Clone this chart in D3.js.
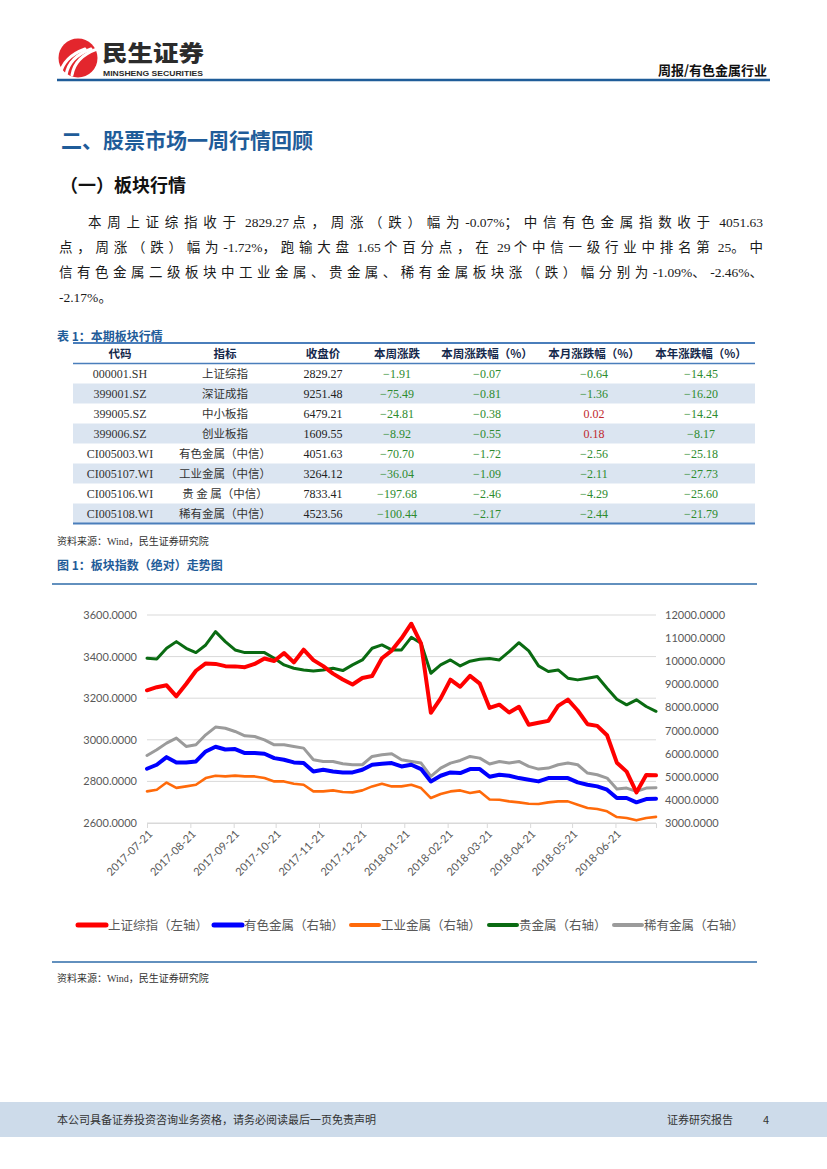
<!DOCTYPE html>
<html>
<head>
<meta charset="utf-8">
<script src="https://cdn.jsdelivr.net/npm/d3@7"></script>
<style>
body { margin: 0; background: #fff; }
svg { display: block; }
</style>
</head>
<body>
<svg id="page"></svg>
<script>
const W = 827, H = 1169;
const cjk = '"Noto Sans CJK SC", sans-serif';
const serif = '"Liberation Serif", "Noto Sans CJK SC", serif';
const chartFont = 'Lato, "Noto Sans CJK SC", sans-serif';
const blue = "#1f5c99";

// table 1
const tblHead = ["代码", "指标", "收盘价", "本周涨跌", "本周涨跌幅（%）", "本月涨跌幅（%）", "本年涨跌幅（%）"];
const tblCode = ["000001.SH", "399001.SZ", "399005.SZ", "399006.SZ", "CI005003.WI", "CI005107.WI", "CI005106.WI", "CI005108.WI"];
const tblName = ["上证综指", "深证成指", "中小板指", "创业板指", "有色金属（中信）", "工业金属（中信）", "贵 金 属（中信）", "稀有金属（中信）"];
const tblClose = ["2829.27", "9251.48", "6479.21", "1609.55", "4051.63", "3264.12", "7833.41", "4523.56"];
const tblWeekChg = [-1.91, -75.49, -24.81, -8.92, -70.70, -36.04, -197.68, -100.44];
const tblWeekPct = [-0.07, -0.81, -0.38, -0.55, -1.72, -1.09, -2.46, -2.17];
const tblMonthPct = [-0.64, -1.36, 0.02, 0.18, -2.56, -2.11, -4.29, -2.44];
const tblYearPct = [-14.45, -16.20, -14.24, -8.17, -25.18, -27.73, -25.60, -21.79];

// figure 1 (weekly readings)
const weeks = [
  "2017-07-21","2017-07-28","2017-08-04","2017-08-11","2017-08-18","2017-08-25","2017-09-01","2017-09-08",
  "2017-09-15","2017-09-22","2017-09-29","2017-10-06","2017-10-13","2017-10-20","2017-10-27","2017-11-03",
  "2017-11-10","2017-11-17","2017-11-24","2017-12-01","2017-12-08","2017-12-15","2017-12-22","2017-12-29",
  "2018-01-05","2018-01-12","2018-01-19","2018-01-26","2018-02-02","2018-02-09","2018-02-16","2018-02-23",
  "2018-03-02","2018-03-09","2018-03-16","2018-03-23","2018-03-30","2018-04-06","2018-04-13","2018-04-20",
  "2018-04-27","2018-05-04","2018-05-11","2018-05-18","2018-05-25","2018-06-01","2018-06-08","2018-06-15",
  "2018-06-22","2018-06-29","2018-07-06","2018-07-13","2018-07-20"];
const shIdx = [3238, 3253, 3262, 3209, 3268, 3332, 3367, 3365, 3354, 3353, 3349, 3365, 3391, 3379, 3417, 3372,
  3433, 3383, 3354, 3318, 3290, 3266, 3297, 3307, 3392, 3429, 3488, 3558, 3462, 3130, 3199, 3289,
  3255, 3307, 3270, 3153, 3169, 3131, 3159, 3072, 3082, 3091, 3163, 3193, 3141, 3075, 3067, 3022,
  2890, 2847, 2747, 2831, 2829];
const nonferrous = [5347, 5520, 5850, 5620, 5621, 5664, 6096, 6300, 6180, 6197, 6024, 6024, 5995, 5808, 5736, 5621,
  5592, 5232, 5304, 5232, 5189, 5189, 5304, 5520, 5563, 5592, 5448, 5520, 5333, 4800, 5045, 5189,
  5160, 5333, 5333, 5000, 5088, 5045, 4944, 4872, 4800, 4944, 4944, 4944, 4757, 4656, 4584, 4440,
  4080, 4080, 3893, 4037, 4052];
const industrial = [4368, 4440, 4750, 4520, 4584, 4656, 4944, 5045, 5016, 5050, 5016, 5016, 4944, 4800, 4800, 4699,
  4656, 4368, 4368, 4411, 4339, 4325, 4411, 4584, 4699, 4584, 4584, 4656, 4512, 4080, 4253, 4368,
  4411, 4296, 4368, 4020, 4008, 3936, 3893, 3835, 3821, 3893, 3936, 3936, 3792, 3648, 3605, 3504,
  3259, 3216, 3115, 3216, 3264];
const precious = [10128, 10100, 10560, 10848, 10560, 10373, 10704, 11280, 10848, 10488, 10373, 10373, 10373, 10128, 9840, 9696,
  9624, 9581, 9624, 9696, 9595, 9840, 10056, 10560, 10704, 10488, 10488, 11035, 10776, 9480, 9840, 10056,
  9797, 10000, 10085, 10120, 10056, 10416, 10800, 10450, 9797, 9552, 9624, 9264, 9192, 9264, 9336, 8832,
  8357, 8112, 8328, 8040, 7833];
const rare = [5923, 6168, 6456, 6672, 6312, 6384, 6816, 7150, 7100, 6960, 6773, 6744, 6600, 6384, 6384, 6312,
  6240, 5736, 5664, 5664, 5563, 5520, 5520, 5880, 5952, 5995, 5736, 5664, 5592, 5016, 5376, 5592,
  5707, 5880, 5808, 5550, 5664, 5592, 5664, 5448, 5333, 5376, 5520, 5592, 5520, 5160, 5088, 4944,
  4469, 4512, 4368, 4512, 4524];
const xTicks = ["2017-07-21","2017-08-21","2017-09-21","2017-10-21","2017-11-21","2017-12-21",
  "2018-01-21","2018-02-21","2018-03-21","2018-04-21","2018-05-21","2018-06-21"];
const leftTicks = [2600, 2800, 3000, 3200, 3400, 3600];
const rightTicks = [3000, 4000, 5000, 6000, 7000, 8000, 9000, 10000, 11000, 12000];

const series = [
  { name: "上证综指（左轴）", values: shIdx, axis: "L", color: "#ff0000", w: 4 },
  { name: "有色金属（右轴）", values: nonferrous, axis: "R", color: "#0000ff", w: 4 },
  { name: "工业金属（右轴）", values: industrial, axis: "R", color: "#ff6a0a", w: 2.6 },
  { name: "贵金属（右轴）", values: precious, axis: "R", color: "#0a6b12", w: 3 },
  { name: "稀有金属（右轴）", values: rare, axis: "R", color: "#9b9b9b", w: 3 }
];

const svg = d3.select("#page").attr("width", W).attr("height", H).attr("viewBox", [0, 0, W, H]);

// ---------- header ----------
const logo = svg.append("g");
logo.append("circle").attr("cx", 78).attr("cy", 58).attr("r", 19.5).attr("fill", "#e3262d");
[-8, -2, 4].forEach(o => {
  logo.append("path")
    .attr("d", `M${68 + o},${75} Q${71 + o},${57} ${93 + o},${49}`)
    .attr("fill", "none").attr("stroke", "#fff").attr("stroke-width", 3).attr("stroke-linecap", "round");
});
svg.append("text").attr("x", 102).attr("y", 61).text("民生证券")
  .attr("font-family", cjk).attr("font-weight", 900).attr("font-size", 22).attr("fill", "#2b2b2b")
  .attr("textLength", 102).attr("lengthAdjust", "spacingAndGlyphs");
svg.append("text").attr("x", 103).attr("y", 75.5).text("MINSHENG SECURITIES")
  .attr("font-family", '"Liberation Sans Narrow", "Liberation Sans", sans-serif').attr("font-weight", 700)
  .attr("font-size", 8).attr("fill", "#2b2b2b").attr("textLength", 100).attr("lengthAdjust", "spacingAndGlyphs");
svg.append("text").attr("x", 767).attr("y", 75).attr("text-anchor", "end").text("周报/有色金属行业")
  .attr("font-family", cjk).attr("font-weight", 700).attr("font-size", 13).attr("fill", "#111");
svg.append("line").attr("x1", 57).attr("x2", 770).attr("y1", 80).attr("y2", 80)
  .attr("stroke", "#1f5c99").attr("stroke-width", 2.4);

// ---------- headings & paragraph ----------
svg.append("text").attr("x", 61).attr("y", 148).text("二、股票市场一周行情回顾")
  .attr("font-family", cjk).attr("font-weight", 700).attr("font-size", 21).attr("fill", blue);
svg.append("text").attr("x", 60).attr("y", 192).text("（一）板块行情")
  .attr("font-family", cjk).attr("font-weight", 700).attr("font-size", 18).attr("fill", "#111");

const paraLines = [
  { t: "本周上证综指收于 2829.27 点，周涨（跌）幅为-0.07%；中信有色金属指数收于 4051.63", x: 88, y: 227, justify: true },
  { t: "点，周涨（跌）幅为-1.72%，跑输大盘 1.65 个百分点，在 29 个中信一级行业中排名第 25。中", x: 59, y: 252, justify: true },
  { t: "信有色金属二级板块中工业金属、贵金属、稀有金属板块涨（跌）幅分别为-1.09%、-2.46%、", x: 59, y: 277, justify: true },
  { t: "-2.17%。", x: 59, y: 302, justify: false }
];
const cjkRe = /[\u3000-\u303f\u4e00-\u9fff\uff00-\uffef]/;
const runRe = /[\u3000-\u303f\u4e00-\u9fff\uff00-\uffef]+|[^\u3000-\u303f\u4e00-\u9fff\uff00-\uffef]+/g;
const paraRight = 763;
paraLines.forEach(l => {
  const t = svg.append("text").attr("x", l.x).attr("y", l.y).style("white-space", "pre")
    .attr("font-family", serif).attr("font-size", 13.5).attr("fill", "#1a1a1a");
  const runs = l.t.match(runRe);
  const spans = runs.map(r => t.append("tspan").text(r).datum(cjkRe.test(r)));
  if (!l.justify) return;
  const natural = t.node().getComputedTextLength();
  const nCjk = Array.from(l.t).filter(c => cjkRe.test(c)).length;
  const lastCjk = cjkRe.test(l.t[l.t.length - 1]) ? 1 : 0;
  const extra = (paraRight - l.x - natural) / (nCjk - lastCjk);
  spans.forEach(s => { if (s.datum()) s.attr("letter-spacing", extra); });
});

// ---------- table ----------
svg.append("text").attr("x", 57).attr("y", 341).text("表 1：本期板块行情")
  .attr("font-family", cjk).attr("font-weight", 700).attr("font-size", 12).attr("fill", blue);

const tblL = 73, tblR = 755, tblTop = 343, headH = 20.5, rowH = 20;
const colX = [120, 225, 323, 397, 487, 594, 701];
const rowY = d3.range(tblCode.length).map(i => tblTop + headH + i * rowH);
rowY.forEach((y, i) => {
  if (i % 2 === 1) svg.append("rect").attr("x", tblL).attr("y", y).attr("width", tblR - tblL).attr("height", rowH).attr("fill", "#dbe5f1");
});
tblHead.forEach((h, j) => {
  svg.append("text").attr("x", colX[j]).attr("y", tblTop + 15).attr("text-anchor", "middle").text(h)
    .attr("font-family", cjk).attr("font-weight", 700).attr("font-size", 11.5).attr("fill", "#14284b");
});
const numCol = (v) => v > 0 ? "#c0282d" : "#2e8b2e";
const fmt2 = d3.format(".2f");
rowY.forEach((y, i) => {
  const by = y + 14.5;
  const cells = [
    { v: tblCode[i], c: "#333", f: serif },
    { v: tblName[i], c: "#333", f: cjk },
    { v: tblClose[i], c: "#222", f: serif },
    { v: fmt2(tblWeekChg[i]), c: numCol(tblWeekChg[i]), f: serif },
    { v: fmt2(tblWeekPct[i]), c: numCol(tblWeekPct[i]), f: serif },
    { v: fmt2(tblMonthPct[i]), c: numCol(tblMonthPct[i]), f: serif },
    { v: fmt2(tblYearPct[i]), c: numCol(tblYearPct[i]), f: serif }
  ];
  cells.forEach((cell, j) => {
    svg.append("text").attr("x", colX[j]).attr("y", by).attr("text-anchor", "middle").text(cell.v)
      .attr("font-family", cell.f).attr("font-size", j === 1 ? 11.5 : 12).attr("fill", cell.c);
  });
});
const tblBottom = tblTop + headH + tblCode.length * rowH;
svg.append("line").attr("x1", tblL).attr("x2", tblR).attr("y1", tblTop).attr("y2", tblTop).attr("stroke", "#4a7ebb").attr("stroke-width", 2.2);
svg.append("line").attr("x1", tblL).attr("x2", tblR).attr("y1", tblTop + headH).attr("y2", tblTop + headH).attr("stroke", "#4a7ebb").attr("stroke-width", 1.4);
svg.append("line").attr("x1", tblL).attr("x2", tblR).attr("y1", tblBottom).attr("y2", tblBottom).attr("stroke", "#4a7ebb").attr("stroke-width", 2.2);

svg.append("text").attr("x", 57).attr("y", 545).text("资料来源：Wind，民生证券研究院")
  .attr("font-family", serif).attr("font-size", 10).attr("fill", "#333");

// ---------- figure 1 ----------
svg.append("text").attr("x", 57).attr("y", 570).text("图 1：板块指数（绝对）走势图")
  .attr("font-family", cjk).attr("font-weight", 700).attr("font-size", 12).attr("fill", blue);
svg.append("line").attr("x1", 52).attr("x2", 757).attr("y1", 584).attr("y2", 584).attr("stroke", "#2e6ba8").attr("stroke-width", 1.6);

const parse = d3.timeParse("%Y-%m-%d");
const dates = weeks.map(parse);
const x = d3.scaleTime().domain([parse("2017-07-21"), parse("2018-07-20")]).range([147, 656]);
const yL = d3.scaleLinear().domain([2600, 3600]).range([823, 615]);
const yR = d3.scaleLinear().domain([3000, 12000]).range([823, 615]);

const chart = svg.append("g");
chart.append("g").selectAll("line").data(leftTicks).join("line")
  .attr("x1", 147).attr("x2", 656).attr("y1", d => yL(d)).attr("y2", d => yL(d))
  .attr("stroke", "#d9d9d9").attr("stroke-width", 1);

const xAxis = chart.append("g").attr("transform", `translate(0,${yL(2600)})`)
  .call(d3.axisBottom(x).tickValues(xTicks.map(parse)).tickSize(5).tickFormat(d3.timeFormat("%Y-%m-%d")));
xAxis.select(".domain").attr("stroke", "#d9d9d9");
xAxis.selectAll(".tick line").attr("stroke", "#d9d9d9");
xAxis.selectAll(".tick text")
  .attr("font-family", chartFont).attr("font-size", 11).attr("fill", "#595959")
  .attr("text-anchor", "end").attr("dy", "0.35em")
  .attr("transform", "translate(3,9) rotate(-45)").attr("y", 0).attr("x", 0);

const lAxis = chart.append("g").attr("transform", "translate(137,0)")
  .call(d3.axisLeft(yL).tickValues(leftTicks).tickSize(0).tickFormat(d3.format(".4f")));
lAxis.select(".domain").remove();
lAxis.selectAll("text").attr("font-family", chartFont).attr("font-size", 11).attr("fill", "#595959").attr("x", 0);

const rAxis = chart.append("g").attr("transform", "translate(665,0)")
  .call(d3.axisRight(yR).tickValues(rightTicks).tickSize(0).tickFormat(d3.format(".4f")));
rAxis.select(".domain").remove();
rAxis.selectAll("text").attr("font-family", chartFont).attr("font-size", 11).attr("fill", "#595959").attr("x", 0);

const drawOrder = [4, 2, 1, 3, 0];
drawOrder.forEach(k => {
  const s = series[k];
  const yy = s.axis === "L" ? yL : yR;
  const line = d3.line().x((d, i) => x(dates[i])).y(d => yy(d));
  chart.append("path").datum(s.values).attr("d", line)
    .attr("fill", "none").attr("stroke", s.color).attr("stroke-width", s.w)
    .attr("stroke-linejoin", "round").attr("stroke-linecap", "round");
});

// legend
const legX = [78, 214, 351, 489, 614];
series.forEach((s, i) => {
  const g = chart.append("g").attr("transform", `translate(${legX[i]},925)`);
  g.append("line").attr("x1", 0).attr("x2", 28).attr("y1", 0).attr("y2", 0)
    .attr("stroke", s.color).attr("stroke-width", i < 2 ? 5 : 4).attr("stroke-linecap", "round");
  g.append("text").attr("x", 30).attr("y", 4.5).text(s.name)
    .attr("font-family", cjk).attr("font-size", 12.5).attr("fill", "#595959");
});

svg.append("line").attr("x1", 52).attr("x2", 757).attr("y1", 962).attr("y2", 962).attr("stroke", "#2e6ba8").attr("stroke-width", 1.6);
svg.append("text").attr("x", 57).attr("y", 982).text("资料来源：Wind，民生证券研究院")
  .attr("font-family", serif).attr("font-size", 10).attr("fill", "#333");

// ---------- footer ----------
svg.append("rect").attr("x", 0).attr("y", 1102).attr("width", W).attr("height", 35).attr("fill", "#cddbea");
svg.append("text").attr("x", 57).attr("y", 1124).text("本公司具备证券投资咨询业务资格，请务必阅读最后一页免责声明")
  .attr("font-family", cjk).attr("font-size", 11).attr("fill", "#333");
svg.append("text").attr("x", 667).attr("y", 1124).text("证券研究报告")
  .attr("font-family", cjk).attr("font-size", 11).attr("fill", "#333");
svg.append("text").attr("x", 763).attr("y", 1124).text("4")
  .attr("font-family", cjk).attr("font-size", 11).attr("fill", "#333");
</script>
</body>
</html>
